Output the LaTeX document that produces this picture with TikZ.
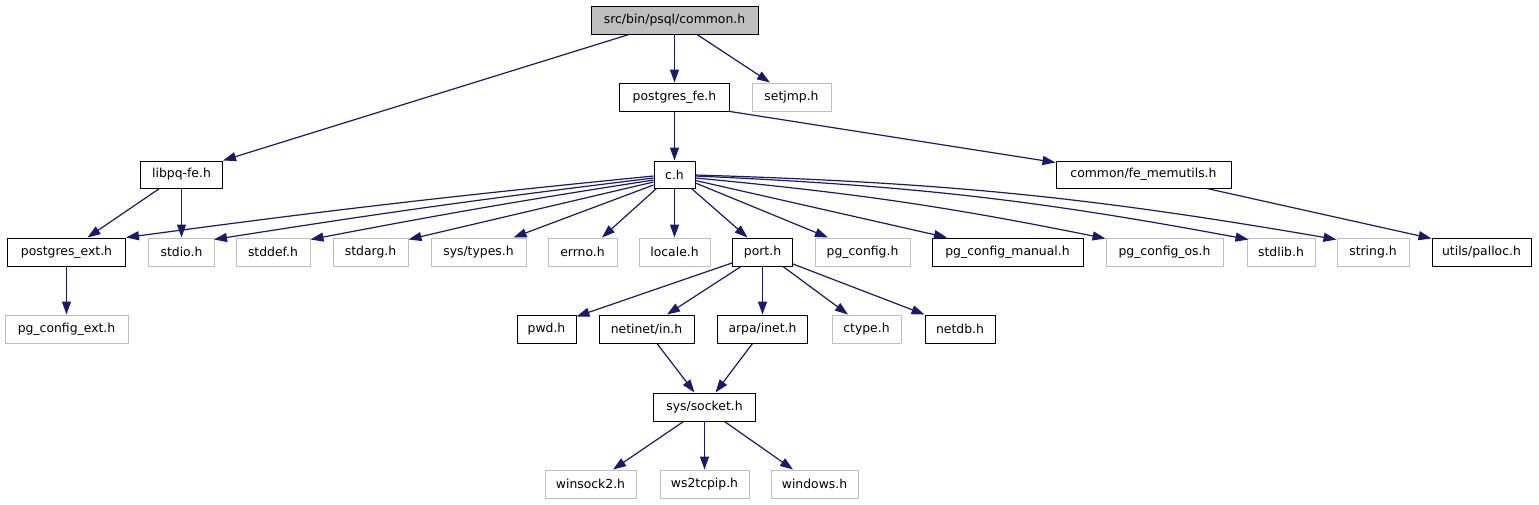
\documentclass[tikz,border=0pt]{standalone}
\usepackage{fontspec}
\setmainfont{DejaVu Sans}
\usetikzlibrary{arrows.meta}
\definecolor{edgec}{HTML}{191970}
\definecolor{grayb}{HTML}{BFBFBF}
\begin{document}
\begin{tikzpicture}[x=1pt,y=-1pt,
  box/.style={draw=black,line width=1pt,minimum height=28pt,inner sep=0pt,
    font=\fontsize{12.4}{14}\selectfont,text=black},
  ext/.style={box,draw=grayb},
  edge/.style={draw=edgec,line width=1.2pt,-{Triangle[length=13pt,width=9pt]}}]
\useasboundingbox (0,0) rectangle (1539,504);
% nodes
\node[box,fill=grayb,minimum width=167pt] (common) at (674.5,20) {src/bin/psql/common.h};
\node[box,minimum width=110pt] (pfe) at (674.5,97) {postgres\_fe.h};
\node[ext,minimum width=79pt] (setjmp) at (791.5,97) {setjmp.h};
\node[box,minimum width=82pt,minimum height=27pt] (libpq) at (181.5,174.5) {libpq-fe.h};
\node[box,minimum width=41pt,minimum height=27pt] (ch) at (674.5,174.5) {c.h};
\node[box,minimum width=175pt,minimum height=27pt] (fem) at (1143.5,174.5) {common/fe\_memutils.h};
\node[box,minimum width=118pt] (pext) at (66.5,252) {postgres\_ext.h};
\node[ext,minimum width=66pt] (stdio) at (181.5,252) {stdio.h};
\node[ext,minimum width=74pt] (stddef) at (273,252) {stddef.h};
\node[ext,minimum width=75pt] (stdarg) at (370.5,252) {stdarg.h};
\node[ext,minimum width=95pt] (systypes) at (478.5,252) {sys/types.h};
\node[ext,minimum width=69pt] (errno) at (582.5,252) {errno.h};
\node[ext,minimum width=71pt] (locale) at (674.5,252) {locale.h};
\node[box,minimum width=60pt] (port) at (762.5,252) {port.h};
\node[ext,minimum width=95pt] (pgconfig) at (862.5,252) {pg\_config.h};
\node[box,minimum width=151pt] (pgman) at (1007.5,252) {pg\_config\_manual.h};
\node[ext,minimum width=117pt] (pgos) at (1164.5,252) {pg\_config\_os.h};
\node[ext,minimum width=68pt] (stdlib) at (1281,252) {stdlib.h};
\node[ext,minimum width=72pt] (string) at (1373,252) {string.h};
\node[box,minimum width=99pt] (palloc) at (1481.5,252) {utils/palloc.h};
\node[ext,minimum width=123pt] (pgext) at (66.5,329) {pg\_config\_ext.h};
\node[box,minimum width=59pt] (pwd) at (546.5,329) {pwd.h};
\node[box,minimum width=95pt] (netin) at (646.5,329) {netinet/in.h};
\node[box,minimum width=90pt] (arpa) at (762.5,329) {arpa/inet.h};
\node[ext,minimum width=69pt] (ctype) at (866.5,329) {ctype.h};
\node[box,minimum width=70pt] (netdb) at (960,329) {netdb.h};
\node[box,minimum width=102pt] (sock) at (704.5,407) {sys/socket.h};
\node[ext,minimum width=91pt] (winsock) at (590.5,484) {winsock2.h};
\node[ext,minimum width=89pt] (ws2) at (704.5,484) {ws2tcpip.h};
\node[ext,minimum width=87pt] (windows) at (814.5,484) {windows.h};
% edges
\draw[edge] ([xshift=-45.5pt]common.south) -- (libpq.north east);
\draw[edge] (common.south) -- (pfe.north);
\draw[edge] ([xshift=22.5pt]common.south) -- ([xshift=-21.5pt]setjmp.north);
\draw[edge] (pfe.south) -- (ch.north);
\draw[edge] (pfe.south east) -- ([yshift=-2pt]fem.north west);
\draw[edge] ([xshift=-22pt]libpq.south) -- ([xshift=21pt]pext.north);
\draw[edge] (libpq.south) -- (stdio.north);
\draw[edge] ([yshift=-1.5pt]ch.west) to[bend right=1] (pext.north east);
\draw[edge] ([yshift=-3.5pt]ch.west) to[bend right=1] ([xshift=-1pt,yshift=-2pt]stdio.north east);
\draw[edge] ([yshift=-5.5pt]ch.west) to[bend right=1] ([yshift=-2pt]stddef.north east);
\draw[edge] ([yshift=-7.5pt]ch.west) -- ([yshift=-2pt]stdarg.north east);
\draw[edge] ([yshift=-10.5pt]ch.west) -- ([xshift=-13pt]systypes.north east);
\draw[edge] ([xshift=3pt]ch.south west) -- ([xshift=19.5pt]errno.north);
\draw[edge] (ch.south) -- (locale.north);
\draw[edge] ([xshift=-4pt]ch.south east) -- ([xshift=-15pt]port.north);
\draw[edge] ([yshift=-8.5pt]ch.east) -- ([xshift=-34.5pt]pgconfig.north);
\draw[edge] ([yshift=-6pt]ch.east) -- ([xshift=-60.5pt]pgman.north);
\draw[edge] ([yshift=-3.5pt]ch.east) to[bend left=3] ([yshift=-1pt]pgos.north west);
\draw[edge] ([yshift=-1.5pt]ch.east) to[bend left=4] ([xshift=2pt,yshift=-2pt]stdlib.north west);
\draw[edge] ([yshift=-0.5pt]ch.east) to[bend left=4] ([yshift=-2pt]string.north west);
\draw[edge] ([xshift=63.5pt]fem.south) -- ([yshift=-1pt]palloc.north west);
\draw[edge] (pext.south) -- (pgext.north);
\draw[edge] ([yshift=-11pt]port.west) -- ([yshift=-2pt]pwd.north east);
\draw[edge] ([xshift=9pt]port.south west) -- ([xshift=20.5pt]netin.north);
\draw[edge] (port.south) -- (arpa.north);
\draw[edge] ([xshift=-10pt]port.south east) -- ([xshift=-18.5pt]ctype.north);
\draw[edge] ([yshift=-12pt]port.east) -- (netdb.north west);
\draw[edge] ([xshift=10.5pt]netin.south) -- ([xshift=-10pt]sock.north);
\draw[edge] ([xshift=-10pt]arpa.south) -- ([xshift=11pt]sock.north);
\draw[edge] ([xshift=-21pt]sock.south) -- ([xshift=22.5pt]winsock.north);
\draw[edge] (sock.south) -- (ws2.north);
\draw[edge] ([xshift=20pt]sock.south) -- ([xshift=-21.5pt]windows.north);
\end{tikzpicture}
\end{document}
